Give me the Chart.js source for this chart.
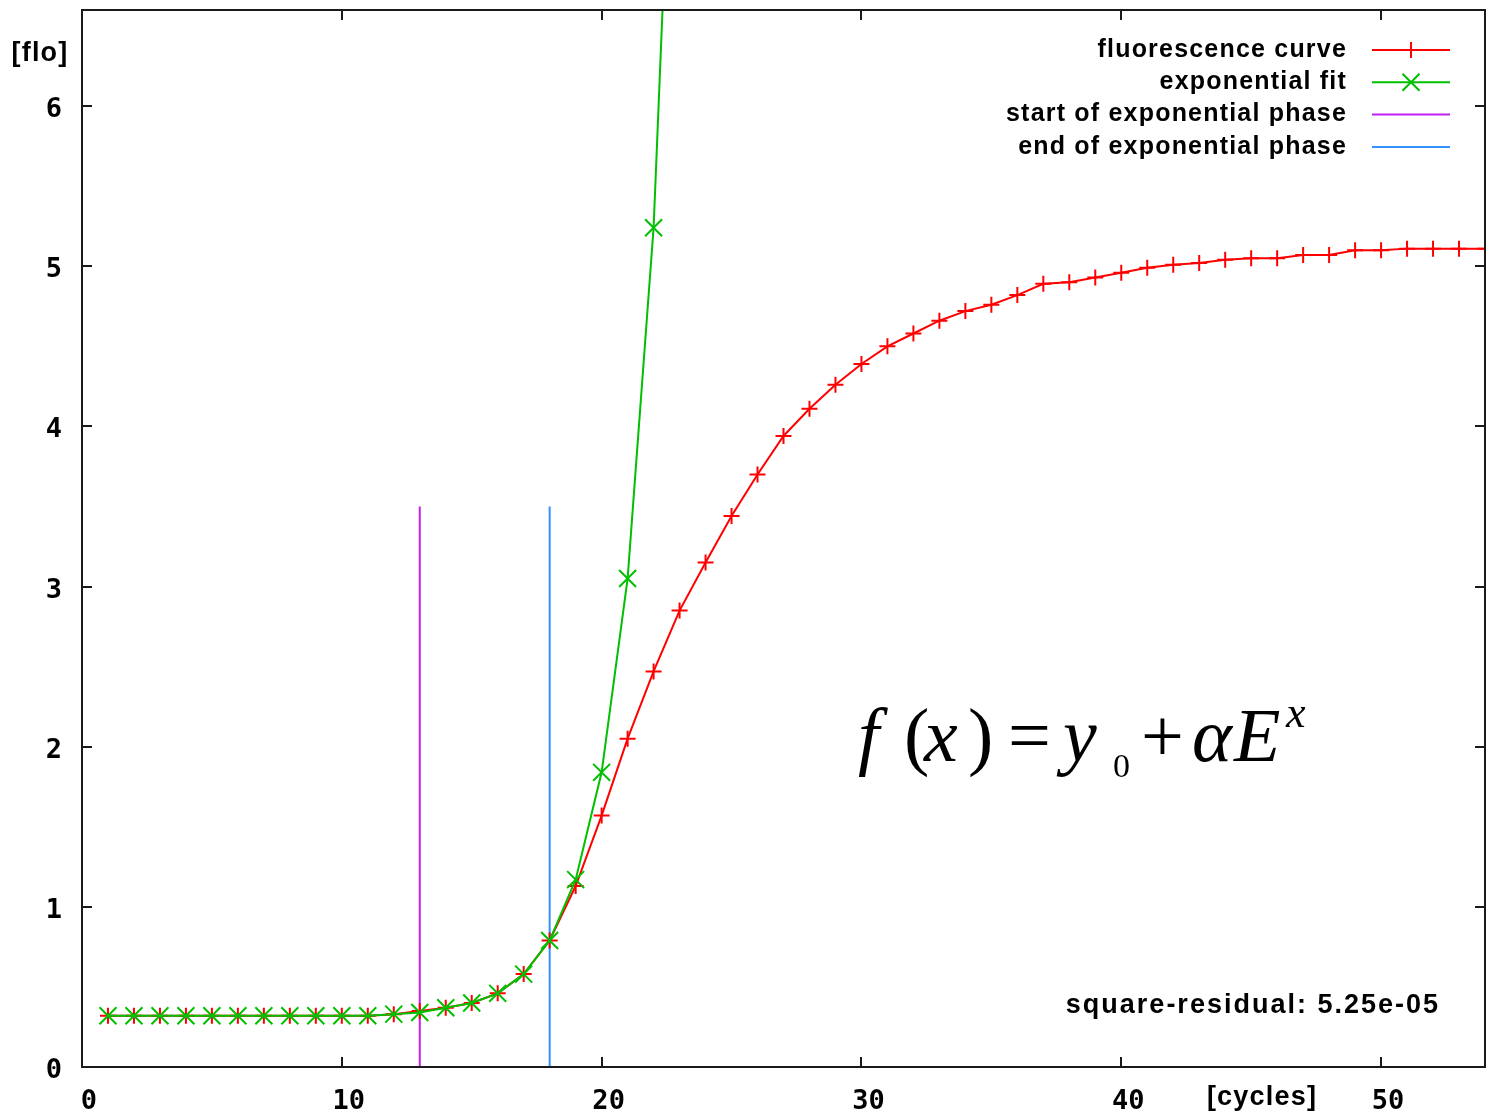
<!DOCTYPE html>
<html>
<head>
<meta charset="utf-8">
<title>fluorescence curve</title>
<script src="https://cdn.jsdelivr.net/npm/chart.js@4"></script>
<style>
  html, body { margin: 0; padding: 0; background: #fff; }
  canvas { display: block; }
</style>
</head>
<body>
<canvas id="curveChart" width="1487" height="1118"></canvas>
<script>
// cycles 1..54 and measured fluorescence
const cycles = [1, 2, 3, 4, 5, 6, 7, 8, 9, 10, 11, 12, 13, 14, 15, 16, 17, 18, 19, 20,
  21, 22, 23, 24, 25, 26, 27, 28, 29, 30, 31, 32, 33, 34, 35, 36, 37, 38, 39, 40,
  41, 42, 43, 44, 45, 46, 47, 48, 49, 50, 51, 52, 53, 54];
const fluorescence = [0.32, 0.32, 0.32, 0.32, 0.32, 0.32, 0.32, 0.32, 0.32, 0.32, 0.32, 0.33, 0.35, 0.37, 0.40, 0.46, 0.58, 0.79, 1.13, 1.57,
  2.05, 2.47, 2.85, 3.15, 3.44, 3.70, 3.94, 4.11, 4.26, 4.39, 4.50, 4.58, 4.66, 4.72, 4.76, 4.82, 4.89, 4.90, 4.93, 4.96,
  4.99, 5.01, 5.02, 5.04, 5.05, 5.05, 5.07, 5.07, 5.10, 5.10, 5.11, 5.11, 5.11, 5.11];

// exponential fit, cycles 1..23 (last point leaves the plot)
const fitCycles = [1, 2, 3, 4, 5, 6, 7, 8, 9, 10, 11, 12, 13, 14, 15, 16, 17, 18, 19, 20, 21, 22, 23];
const fitValues = [0.32, 0.32, 0.32, 0.32, 0.32, 0.32, 0.32, 0.32, 0.32, 0.32, 0.32, 0.33, 0.34, 0.37, 0.40, 0.46, 0.58, 0.79, 1.17, 1.84, 3.05, 5.24, 9.2];

// exponential phase limits (cycle) and marker line height
const phaseStart = 13;
const phaseEnd = 18;
const phaseLineTop = 3.5;

const xTicks = [0, 10, 20, 30, 40, 50];
const yTicks = [0, 1, 2, 3, 4, 5, 6];

const residualText = 'square-residual: 5.25e-05';

const toPoints = (xs, ys) => xs.map((x, i) => ({ x: x, y: ys[i] }));

const RED = '#ff0000';
const GREEN = '#00c000';
const PURPLE = '#c020f0';
const BLUE = '#3392ff';

// frame, inward ticks, legend and annotations
const gnuplotLook = {
  id: 'gnuplotLook',
  afterDatasetsDraw(chart) {
    const ctx = chart.ctx;
    const a = chart.chartArea;
    const xs = chart.scales.x;
    const ys = chart.scales.y;
    ctx.save();

    // frame
    ctx.strokeStyle = '#1a1a1a';
    ctx.lineWidth = 2;
    ctx.strokeRect(a.left, a.top, a.right - a.left, a.bottom - a.top);

    // inward ticks on all four sides
    const tl = 10;
    ctx.beginPath();
    xTicks.forEach(v => {
      const px = Math.round(xs.getPixelForValue(v));
      ctx.moveTo(px, a.bottom); ctx.lineTo(px, a.bottom - tl);
      ctx.moveTo(px, a.top); ctx.lineTo(px, a.top + tl);
    });
    yTicks.forEach(v => {
      const py = Math.round(ys.getPixelForValue(v));
      ctx.moveTo(a.left, py); ctx.lineTo(a.left + tl, py);
      ctx.moveTo(a.right, py); ctx.lineTo(a.right - tl, py);
    });
    ctx.stroke();

    // legend (top right, gnuplot style)
    ctx.font = 'bold 25px "Liberation Sans", Arial, sans-serif';
    ctx.letterSpacing = '1.2px';
    ctx.fillStyle = '#000';
    ctx.textAlign = 'right';
    ctx.textBaseline = 'middle';
    const textRight = a.right - 138;
    const lineL = a.right - 113;
    const lineR = a.right - 35;
    chart.data.datasets.forEach((ds, i) => {
      const y = a.top + 40 + i * 32.3;
      ctx.fillText(ds.label, textRight, y);
      ctx.strokeStyle = ds.borderColor;
      ctx.lineWidth = 2;
      ctx.beginPath();
      ctx.moveTo(lineL, y); ctx.lineTo(lineR, y);
      ctx.stroke();
      if (ds.pointRadius > 0) {
        Chart.helpers.drawPoint(ctx, {
          pointStyle: ds.pointStyle,
          radius: ds.pointRadius,
          borderWidth: 2,
          rotation: 0
        }, (lineL + lineR) / 2, y);
      }
    });

    // axis names
    ctx.textAlign = 'center';
    ctx.font = 'bold 27px "Liberation Sans", Arial, sans-serif';
    ctx.fillText('[flo]', 40, a.top + 44);
    ctx.fillText('[cycles]', a.left + 1180, a.bottom + 31);

    // residual
    ctx.textAlign = 'right';
    ctx.textBaseline = 'alphabetic';
    ctx.font = 'bold 27px "Liberation Sans", Arial, sans-serif';
    ctx.letterSpacing = '2px';
    ctx.fillText(residualText, a.right - 45, a.bottom - 54);
    ctx.letterSpacing = '0px';

    // model formula  f(x) = y0 + αE^x
    const fx = a.left + 776;
    const fy = a.top + 751;
    const big = 76;
    const pieces = [
      { t: 'f', dx: 0, it: true },
      { t: '(', dx: 46 },
      { t: 'x', dx: 66, it: true },
      { t: ')', dx: 110 },
      { t: '=', dx: 150 },
      { t: 'y', dx: 205, it: true },
      { t: '0', dx: 255, sz: 34, dy: 16 },
      { t: '+', dx: 283 },
      { t: '\u03b1', dx: 334, it: true },
      { t: 'E', dx: 376, it: true },
      { t: 'x', dx: 428, it: true, sz: 44, dy: -34 }
    ];
    ctx.textAlign = 'left';
    pieces.forEach(p => {
      ctx.font = (p.it ? 'italic ' : '') + (p.sz || big) + 'px "Liberation Serif", "Times New Roman", serif';
      ctx.fillText(p.t, fx + p.dx, fy + (p.dy || 0));
    });

    ctx.restore();
  }
};

// keep the plot frame tight to the canvas edges
const noLabelPadding = s => {
  s.paddingTop = 0;
  s.paddingBottom = 0;
  s.paddingLeft = 0;
  s.paddingRight = 0;
};

new Chart(document.getElementById('curveChart'), {
  type: 'line',
  data: {
    datasets: [
      {
        label: 'fluorescence curve',
        data: toPoints(cycles, fluorescence),
        borderColor: RED,
        backgroundColor: RED,
        borderWidth: 2,
        pointStyle: 'cross',
        pointRadius: 8,
        pointBorderWidth: 2,
        fill: false,
        order: 1
      },
      {
        label: 'exponential fit',
        data: toPoints(fitCycles, fitValues),
        borderColor: GREEN,
        backgroundColor: GREEN,
        borderWidth: 2,
        pointStyle: 'crossRot',
        pointRadius: 12,
        pointBorderWidth: 2,
        fill: false,
        order: 0
      },
      {
        label: 'start of exponential phase',
        data: [{ x: phaseStart, y: 0 }, { x: phaseStart, y: phaseLineTop }],
        borderColor: PURPLE,
        borderWidth: 2,
        pointRadius: 0,
        fill: false,
        order: 2
      },
      {
        label: 'end of exponential phase',
        data: [{ x: phaseEnd, y: 0 }, { x: phaseEnd, y: phaseLineTop }],
        borderColor: BLUE,
        borderWidth: 2,
        pointRadius: 0,
        fill: false,
        order: 3
      }
    ]
  },
  options: {
    responsive: false,
    animation: false,
    layout: { autoPadding: false, padding: { top: 10, right: 2, left: 0, bottom: 0 } },
    plugins: {
      legend: { display: false },
      tooltip: { enabled: false }
    },
    scales: {
      x: {
        type: 'linear',
        min: 0,
        max: 54,
        grid: { display: false, drawTicks: false },
        border: { display: false },
        afterFit: s => { s.height = 51; noLabelPadding(s); },
        afterBuildTicks: s => { s.ticks = xTicks.map(v => ({ value: v })); },
        ticks: {
          padding: 19,
          labelOffset: 7,
          color: '#000',
          maxRotation: 0,
          font: { family: '"DejaVu Sans Mono", monospace', weight: 'bold', size: 27 }
        }
      },
      y: {
        min: 0,
        max: 6.6,
        grid: { display: false, drawTicks: false },
        border: { display: false },
        afterFit: s => { s.width = 82; noLabelPadding(s); },
        afterBuildTicks: s => { s.ticks = yTicks.map(v => ({ value: v })); },
        ticks: {
          padding: 20,
          labelOffset: 4,
          color: '#000',
          font: { family: '"DejaVu Sans Mono", monospace', weight: 'bold', size: 27 }
        }
      }
    }
  },
  plugins: [gnuplotLook]
});
</script>
</body>
</html>
